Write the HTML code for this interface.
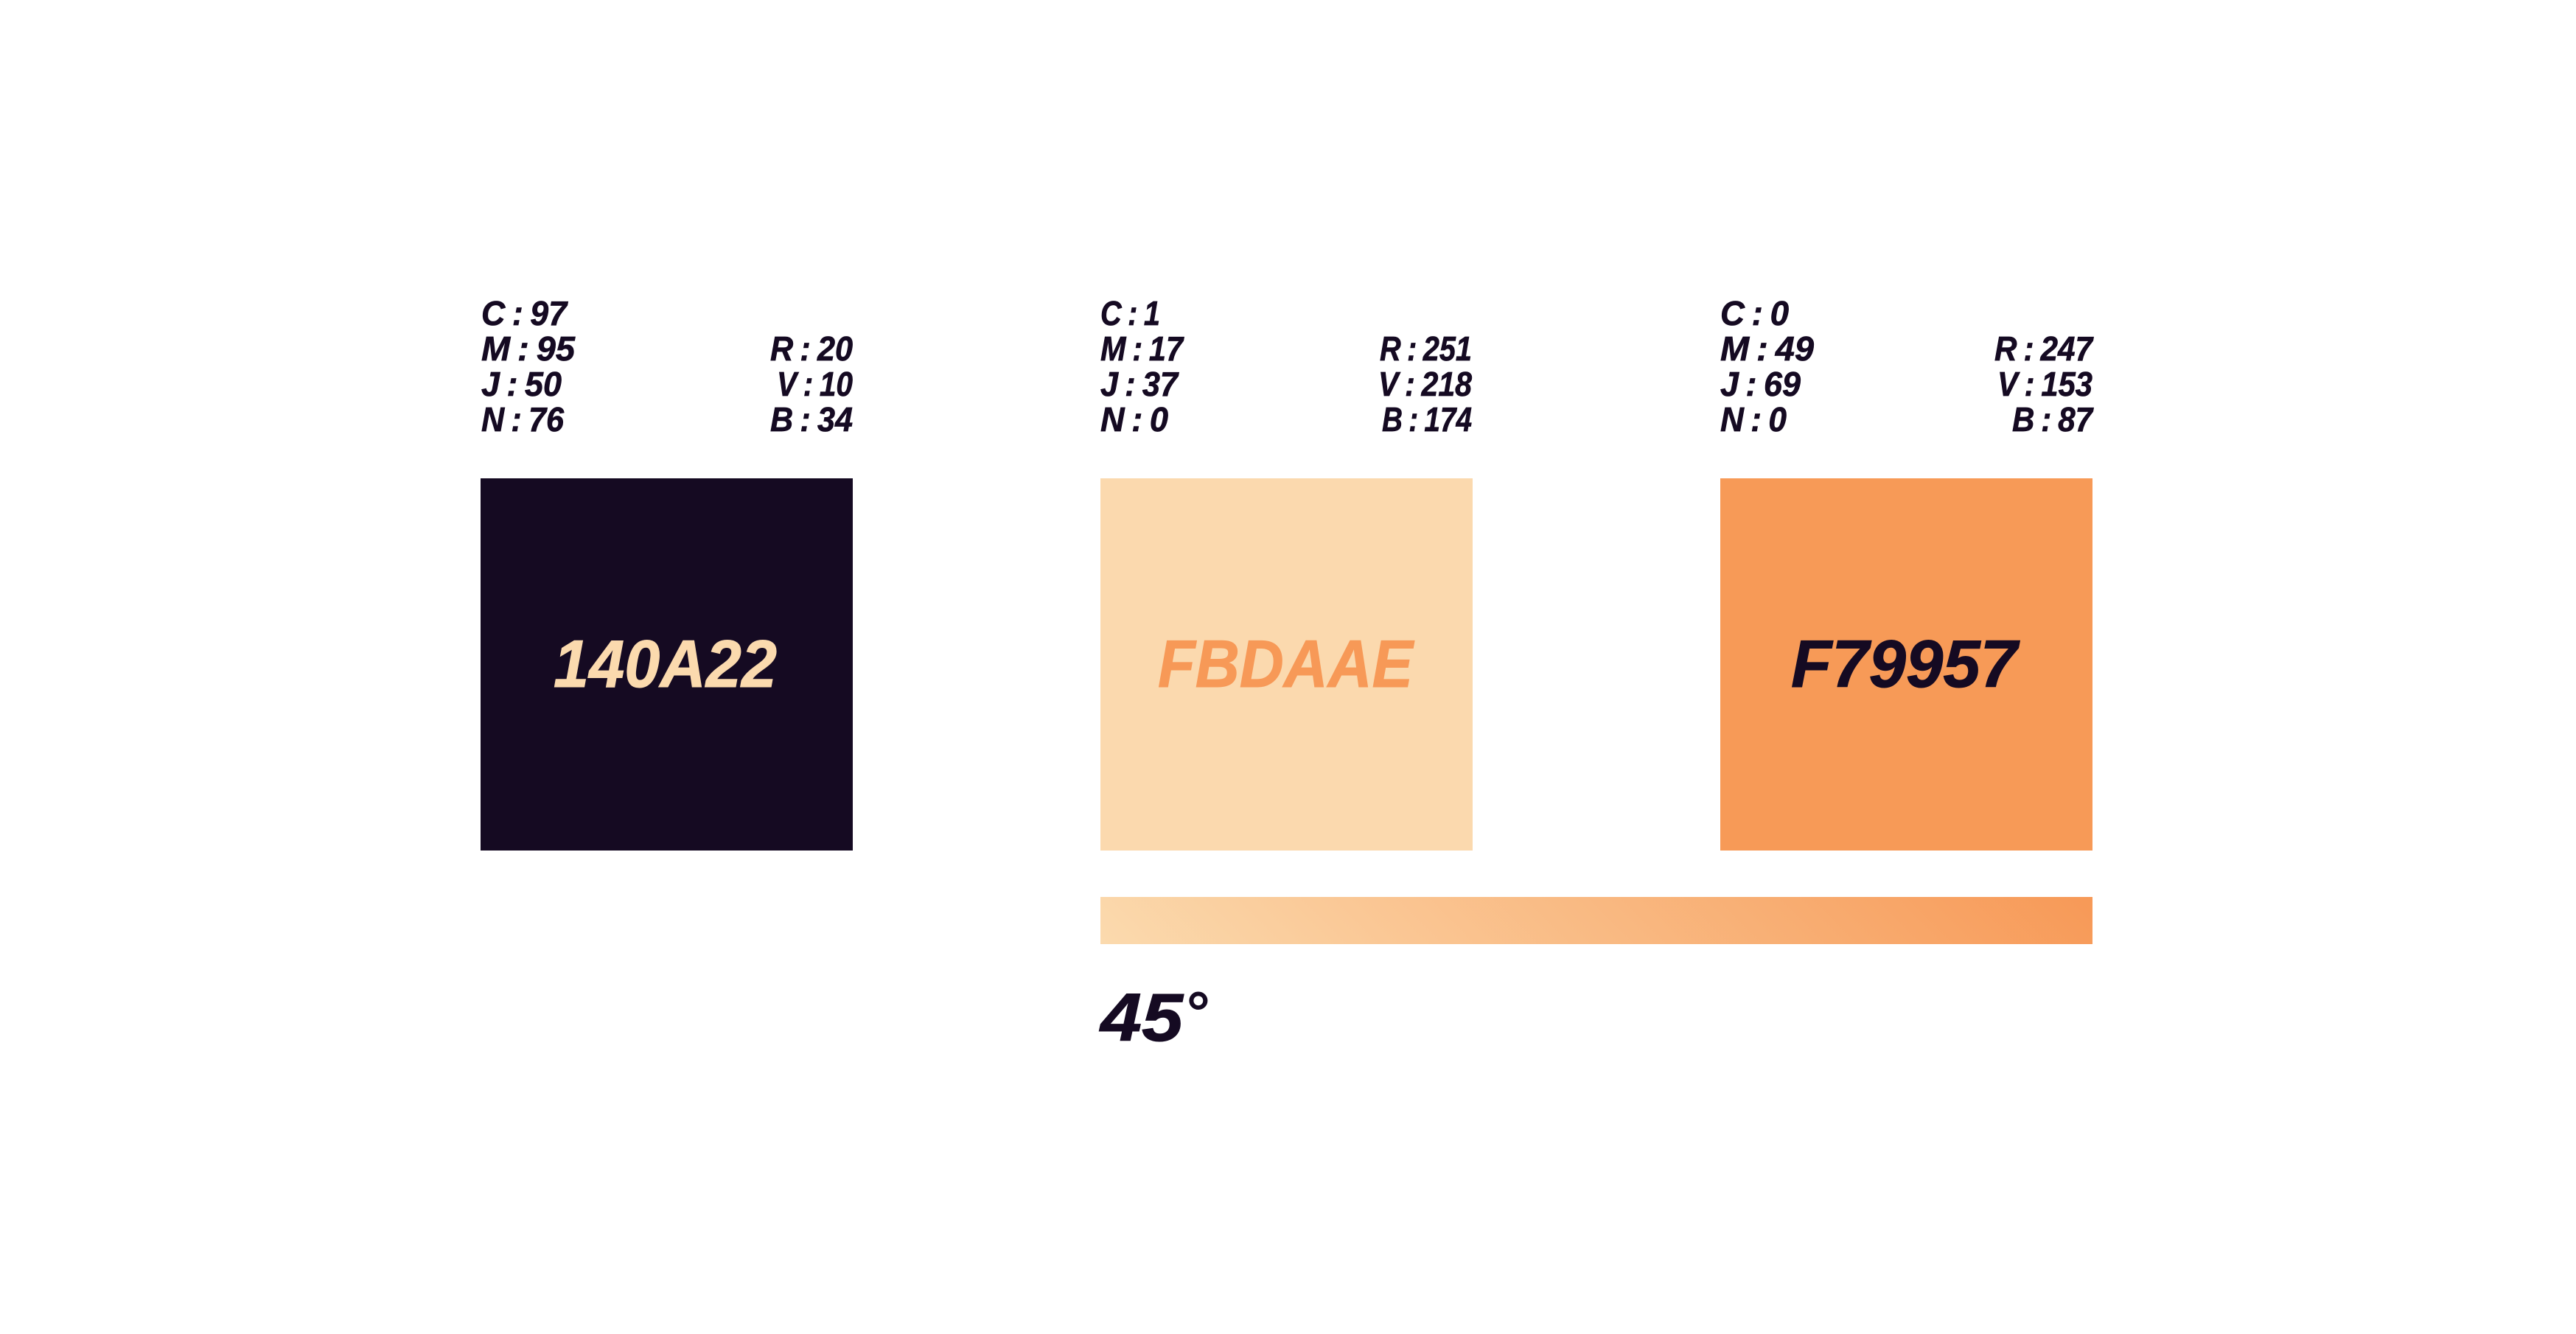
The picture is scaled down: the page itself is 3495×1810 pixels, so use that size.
<!DOCTYPE html>
<html lang="fr">
<head>
<meta charset="utf-8">
<title>Palette</title>
<style>
html,body{margin:0;padding:0;background:#fff;width:3495px;height:1810px;overflow:hidden}
svg{display:block}
text{font-family:"Liberation Sans",sans-serif;font-weight:700;font-style:italic}
.s{font-size:46px;fill:#150A22;stroke:#150A22;stroke-width:.7px;word-spacing:-3px}
.b{font-size:91px;stroke-width:1px}
</style>
</head>
<body>
<svg width="3495" height="1810" viewBox="0 0 3495 1810" xmlns="http://www.w3.org/2000/svg">
<defs>
<linearGradient id="g" gradientUnits="userSpaceOnUse" x1="1813.5" y1="1601.5" x2="2518.5" y2="896.5">
<stop offset="0" stop-color="#FBDAAE"/>
<stop offset="1" stop-color="#F79957"/>
</linearGradient>
</defs>
<rect width="3495" height="1810" fill="#fff"/>
<rect x="652" y="649" width="505" height="505" fill="#150A22"/>
<rect x="1493" y="649" width="505" height="505" fill="#FBD9AE"/>
<rect x="2334" y="649" width="505" height="505" fill="#F79A57"/>
<rect x="1493" y="1217" width="1346" height="64" fill="url(#g)"/>

<text class="b" fill="#FBDAAE" stroke="#FBDAAE" x="751" y="932" textLength="303" lengthAdjust="spacingAndGlyphs">140A22</text>
<text class="b" fill="#F79957" stroke="#F79957" x="1571" y="932" textLength="346" lengthAdjust="spacingAndGlyphs">FBDAAE</text>
<text class="b" fill="#150A22" stroke="#150A22" x="2430" y="932" textLength="307" lengthAdjust="spacingAndGlyphs">F79957</text>
<text class="b" fill="#150A22" stroke="#150A22" x="1493" y="1412" textLength="112" lengthAdjust="spacingAndGlyphs" style="font-size:92px">45</text>
<text fill="#150A22" x="1606" y="1401" style="font-size:80px;font-weight:700">°</text>

<text class="s" x="653" y="441" textLength="116" lengthAdjust="spacingAndGlyphs">C : 97</text>
<text class="s" x="653" y="489" textLength="127" lengthAdjust="spacingAndGlyphs">M : 95</text>
<text class="s" x="653" y="537" textLength="109" lengthAdjust="spacingAndGlyphs">J : 50</text>
<text class="s" x="653" y="585" textLength="112" lengthAdjust="spacingAndGlyphs">N : 76</text>
<text class="s" x="1045" y="489" textLength="112" lengthAdjust="spacingAndGlyphs">R : 20</text>
<text class="s" x="1054" y="537" textLength="103" lengthAdjust="spacingAndGlyphs">V : 10</text>
<text class="s" x="1045" y="585" textLength="112" lengthAdjust="spacingAndGlyphs">B : 34</text>

<text class="s" x="1493" y="441" textLength="81" lengthAdjust="spacingAndGlyphs">C : 1</text>
<text class="s" x="1493" y="489" textLength="112" lengthAdjust="spacingAndGlyphs">M : 17</text>
<text class="s" x="1493" y="537" textLength="105" lengthAdjust="spacingAndGlyphs">J : 37</text>
<text class="s" x="1493" y="585" textLength="92" lengthAdjust="spacingAndGlyphs">N : 0</text>
<text class="s" x="1872" y="489" textLength="125" lengthAdjust="spacingAndGlyphs">R : 251</text>
<text class="s" x="1870" y="537" textLength="127" lengthAdjust="spacingAndGlyphs">V : 218</text>
<text class="s" x="1875" y="585" textLength="122" lengthAdjust="spacingAndGlyphs">B : 174</text>

<text class="s" x="2334" y="441" textLength="93" lengthAdjust="spacingAndGlyphs">C : 0</text>
<text class="s" x="2334" y="489" textLength="127" lengthAdjust="spacingAndGlyphs">M : 49</text>
<text class="s" x="2334" y="537" textLength="109" lengthAdjust="spacingAndGlyphs">J : 69</text>
<text class="s" x="2334" y="585" textLength="90" lengthAdjust="spacingAndGlyphs">N : 0</text>
<text class="s" x="2706" y="489" textLength="133" lengthAdjust="spacingAndGlyphs">R : 247</text>
<text class="s" x="2710" y="537" textLength="129" lengthAdjust="spacingAndGlyphs">V : 153</text>
<text class="s" x="2730" y="585" textLength="109" lengthAdjust="spacingAndGlyphs">B : 87</text>
</svg>
</body>
</html>
